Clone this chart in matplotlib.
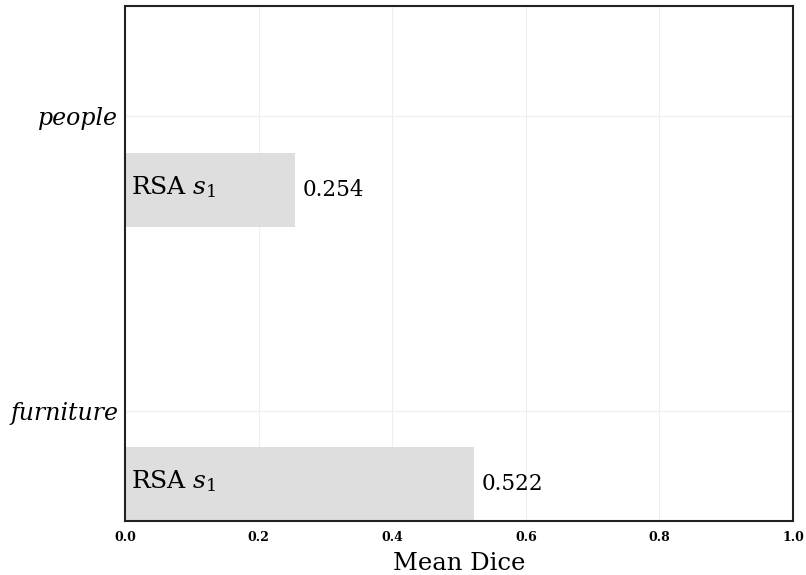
import matplotlib
matplotlib.use("Agg")
import matplotlib.pyplot as plt
import numpy as np

categories = ["furniture", "people"]
dice_values = [0.522, 0.254]
bar_label = "RSA $s_1$"
x_ticks = [0.0, 0.2, 0.4, 0.6, 0.8, 1.0]

plt.rcParams["font.family"] = ["DejaVu Serif"]
plt.rcParams["mathtext.fontset"] = "dejavuserif"

fig = plt.figure(figsize=(8.06, 5.75), dpi=100)
ax = fig.add_axes([0.155, 0.094, 0.829, 0.896])

pos = np.arange(len(categories))
offset = -0.25
height = 0.25
ax.barh(pos + offset, dice_values, height=height, color="#dddddd", alpha=0.95, zorder=2)

for p, v in zip(pos, dice_values):
    ax.text(0.009, p + offset + 0.01, bar_label, va="center", ha="left", fontsize=18, zorder=3)
    ax.text(v + 0.012, p + offset, f"{v:.3f}", va="center", ha="left", fontsize=15.5, zorder=3)

ax.set_xlim(0, 1.0)
ax.set_ylim(-0.375, 1.375)
ax.set_xticks(x_ticks)
ax.set_xticklabels([f"{t:.1f}" for t in x_ticks], fontsize=9, fontweight="bold")
ax.set_yticks(pos)
ax.set_yticklabels(categories, fontsize=17, style="italic")
ax.tick_params(axis="x", length=0, pad=7)
ax.tick_params(axis="y", length=0, pad=5)
ax.set_xlabel("Mean Dice", fontsize=17.5, labelpad=6)
ax.grid(True, color="#eeeeee", linewidth=0.8, zorder=0)
ax.set_axisbelow(True)
for s in ax.spines.values():
    s.set_color("#222222")
    s.set_linewidth(1.5)

fig.savefig("out.png", dpi=100)
